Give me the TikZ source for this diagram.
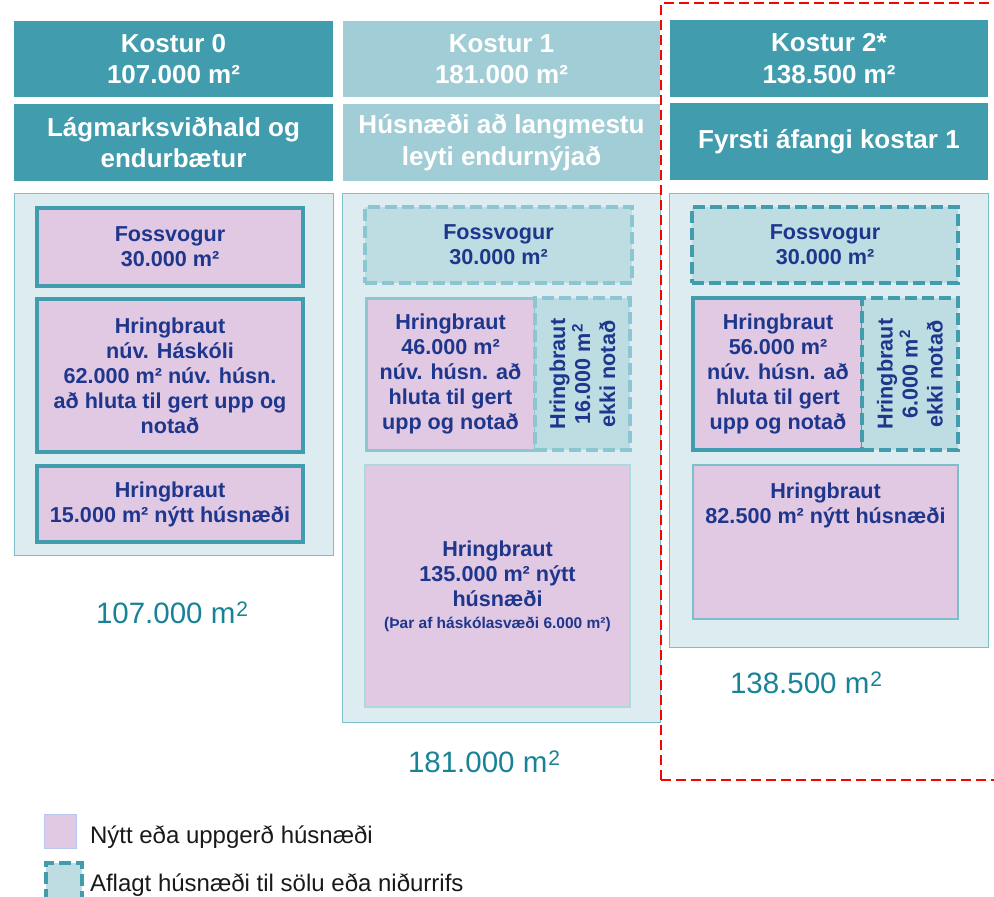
\documentclass[tikz,border=0pt]{standalone}
\usepackage{fontspec}
\setmainfont{Liberation Sans}

\definecolor{tealdark}{RGB}{65,156,173}
\definecolor{teallight}{RGB}{161,206,214}
\definecolor{panelfill}{RGB}{221,236,241}
\definecolor{paneledge}{RGB}{125,190,200}
\definecolor{pinkfill}{RGB}{225,200,227}
\definecolor{oldfill}{RGB}{189,221,226}
\definecolor{fadeedge}{RGB}{140,198,208}
\definecolor{navytext}{RGB}{30,55,140}
\definecolor{sumtext}{RGB}{24,130,150}

\newcommand{\hdrfont}{\fontsize{26}{31.5}\selectfont\bfseries}
\newcommand{\boxfont}{\fontsize{21.6}{25}\selectfont\bfseries}
\newcommand{\smallfont}{\fontsize{15.5}{18}\selectfont\bfseries}
\newcommand{\sumfont}{\fontsize{29.5}{34}\selectfont}
\newcommand{\legfont}{\fontsize{24}{28}\selectfont}
\newcommand{\sqm}{m\kern1pt\raisebox{6.5pt}{\fontsize{21}{21}\selectfont 2}}

\begin{document}
\begin{tikzpicture}[x=1pt, y=-1pt,
    every node/.style={inner sep=0pt, outer sep=0pt},
    hdr/.style={fill=tealdark, text=white, font=\hdrfont, align=center, anchor=north west},
    hdrfade/.style={hdr, fill=teallight},
    panel/.style={fill=panelfill, draw=paneledge, line width=1pt, anchor=north west},
    newbox/.style={fill=pinkfill, draw=tealdark, line width=3.5pt, text=navytext, font=\boxfont, align=center, anchor=north west},
    oldbox/.style={fill=oldfill, draw=tealdark, line width=3.5pt, dash pattern=on 12pt off 5pt, text=navytext, font=\boxfont, align=center, anchor=north west},
    sumlabel/.style={text=sumtext, font=\sumfont, anchor=base west},
    leglabel/.style={text=black!90, font=\legfont, anchor=base west}
  ]

    % Page size
    \useasboundingbox (0,0) rectangle (994,897);

    % Headers
    \node[hdr, minimum width=319, minimum height=76] (h0) at (14,21) {Kostur 0\\107.000 m²};
    \node[hdr, minimum width=319, minimum height=77] (t0) at (14,104) {Lágmarksviðhald og\\endurbætur};
    \node[hdrfade, minimum width=317, minimum height=76] (h1) at (343,21) {Kostur 1\\181.000 m²};
    \node[hdrfade, minimum width=317, minimum height=77] (t1) at (343,104) {Húsnæði að langmestu\\leyti endurnýjað};
    \node[hdr, minimum width=318, minimum height=77] (h2) at (670,20) {Kostur 2*\\138.500 m²};
    \node[hdr, minimum width=318, minimum height=77] (t2) at (670,103) {Fyrsti áfangi kostar 1};

    % Panels
    \node[panel, minimum width=319, minimum height=362] (p0) at (14,193) {};
    \node[panel, minimum width=318, minimum height=529] (p1) at (342,193) {};
    \node[panel, minimum width=319, minimum height=454] (p2) at (669,193) {};

    % Kostur 0
    \node[newbox, minimum width=266, minimum height=78] (foss0) at (37,208) {Fossvogur\\30.000 m²};
    \node[newbox, minimum width=266, minimum height=153] (hring0) at (37,299)
        {Hringbraut\\núv. Háskóli\\62.000 m² núv. húsn.\\að hluta til gert upp og\\notað};
    \node[newbox, minimum width=266, minimum height=76] (nytt0) at (37,466) {Hringbraut\\15.000 m² nýtt húsnæði};

    % Kostur 1
    \node[oldbox, draw=fadeedge, minimum width=267, minimum height=76] (foss1) at (365,207) {Fossvogur\\30.000 m²};
    \node[newbox, draw=fadeedge, line width=3pt, minimum width=169, minimum height=152] (hring1) at (366,298)
        {Hringbraut\\46.000 m²\\núv. húsn. að\\hluta til gert\\upp og notað};
    \node[oldbox, draw=fadeedge, minimum width=95, minimum height=152] (old1) at (535,298) {};
    \node[text=navytext, font=\boxfont, align=center, rotate=90] (old1t) at (old1.center)
        {Hringbraut\\16.000 m\textsuperscript{2}\\ekki notað};
    \node[newbox, draw=fadeedge!70, line width=1.5pt, minimum width=265, minimum height=242] (nytt1) at (365,465)
        {Hringbraut\\135.000 m² nýtt\\húsnæði\\[-3pt]{\smallfont (Þar af háskólasvæði 6.000 m²)}};

    % Kostur 2
    \node[oldbox, minimum width=266, minimum height=76] (foss2) at (692,207) {Fossvogur\\30.000 m²};
    \node[newbox, minimum width=170, minimum height=152] (hring2) at (693,298)
        {Hringbraut\\56.000 m²\\núv. húsn. að\\hluta til gert\\upp og notað};
    \node[oldbox, minimum width=96, minimum height=152] (old2) at (862,298) {};
    \node[text=navytext, font=\boxfont, align=center, rotate=90] (old2t) at (old2.center)
        {Hringbraut\\6.000 m\textsuperscript{2}\\ekki notað};
    \node[newbox, draw=paneledge, line width=1.5pt, minimum width=265, minimum height=154] (nytt2) at (693,465) {};
    \node[text=navytext, font=\boxfont, align=center, anchor=north] (nytt2t) at ([yshift=-18]nytt2.north)
        {Hringbraut\\82.500 m² nýtt húsnæði};

    % Totals
    \node[sumlabel] (sum0) at (96,623) {107.000 \sqm};
    \node[sumlabel] (sum1) at (408,772) {181.000 \sqm};
    \node[sumlabel] (sum2) at (730,693) {138.500 \sqm};

    % Selected option
    \draw[red, line width=2.8pt, dash pattern=on 10pt off 5pt] (661,780) -- (661,3) -- (1000,3);
    \draw[red, line width=2.8pt, dash pattern=on 10pt off 5pt] (661,780) -- (1000,780);

    % Legend
    \node[fill=pinkfill, draw=paneledge!60!blue!40, line width=1pt, minimum width=32, minimum height=34, anchor=north west] (leg1) at (44,814) {};
    \node[leglabel] (leg1t) at (90,843) {Nýtt eða uppgerð húsnæði};
    \node[fill=oldfill, draw=tealdark, line width=3.5pt, dash pattern=on 12pt off 5pt, minimum width=36, minimum height=38, anchor=north west] (leg2) at (46,863) {};
    \node[leglabel] (leg2t) at (90,891) {Aflagt húsnæði til sölu eða niðurrifs};

\end{tikzpicture}
\end{document}
